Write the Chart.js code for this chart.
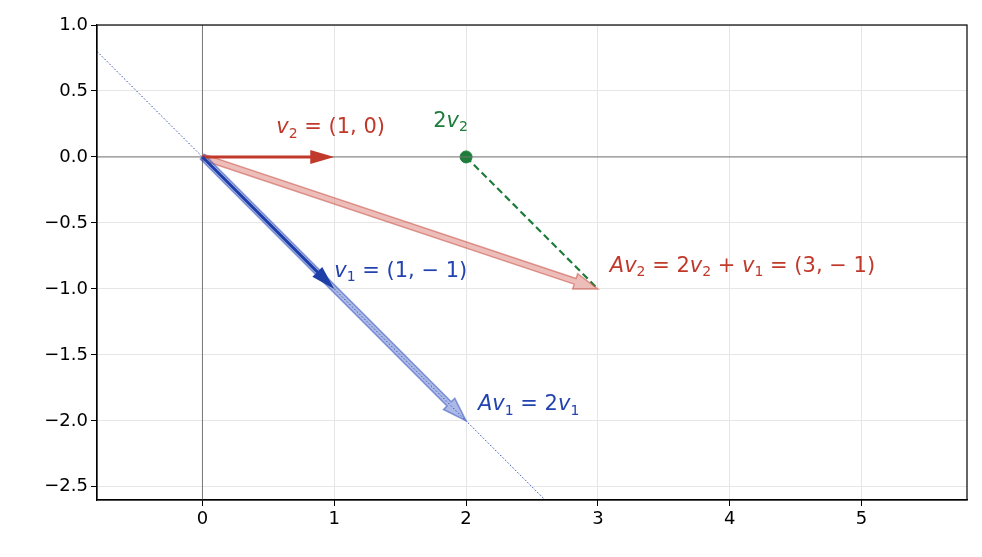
<!DOCTYPE html><html><head><meta charset="utf-8">
<script src="https://cdn.jsdelivr.net/npm/chart.js@4"></script>
<style>body{margin:0;background:#fff}#w{width:982px;height:557px}</style></head><body><div id="w"><canvas id="c"></canvas></div>
<script>
const xTicks=[0,1,2,3,4,5];
const yTicks=[1.0,0.5,0.0,-0.5,-1.0,-1.5,-2.0,-2.5];
const eigenLine=[{x:-0.8,y:0.8},{x:2.6,y:-2.6}];
const dashed=[{x:2,y:0},{x:3,y:-1}];
const point2v2=[{x:2,y:0}];
// arrows: [x0,y0,x1,y1]
const arrowAv2=[0,0,3,-1], arrowAv1=[0,0,2,-2], arrowV2=[0,0,1,0], arrowV1=[0,0,1,-1];
const labels=[
 {x:0.56,y:0.22,c:'#c0392b',p:[['v',1],['2',2],[' = (1, 0)',0]]},
 {x:1.75,y:0.27,c:'#1e7d3a',p:[['2',0],['v',1],['2',2]]},
 {x:1.0,y:-0.87,c:'#2343b0',p:[['v',1],['1',2],[' = (1, − 1)',0]]},
 {x:3.09,y:-0.83,c:'#c0392b',p:[['Av',1],['2',2],[' = 2',0],['v',1],['2',2],[' + ',0],['v',1],['1',2],[' = (3, − 1)',0]]},
 {x:2.09,y:-1.88,c:'#2343b0',p:[['Av',1],['1',2],[' = 2',0],['v',1],['1',2]]}
];
function arrow(ctx,xs,ys,a,col,w,hl,hw,stroke){
 const x0=xs.getPixelForValue(a[0]),y0=ys.getPixelForValue(a[1]),x1=xs.getPixelForValue(a[2]),y1=ys.getPixelForValue(a[3]);
 const ang=Math.atan2(y1-y0,x1-x0),L=Math.hypot(x1-x0,y1-y0);
 ctx.save();ctx.translate(x0,y0);ctx.rotate(ang);
 ctx.beginPath();ctx.moveTo(0,-w/2);ctx.lineTo(L-hl,-w/2);ctx.lineTo(L-hl,-hw/2);ctx.lineTo(L,0);ctx.lineTo(L-hl,hw/2);ctx.lineTo(L-hl,w/2);ctx.lineTo(0,w/2);ctx.closePath();
 ctx.fillStyle=col;ctx.fill();if(stroke){ctx.strokeStyle=stroke;ctx.lineWidth=1.5;ctx.stroke();}
 ctx.restore();
}
const plug={id:'p',afterDatasetsDraw(ch){
 const ctx=ch.ctx,xs=ch.scales.x,ys=ch.scales.y,a=ch.chartArea;
 ctx.save();ctx.beginPath();ctx.rect(a.left,a.top,a.right-a.left,a.bottom-a.top);ctx.clip();
 arrow(ctx,xs,ys,arrowAv2,'rgba(214,110,100,0.45)',6,24,16,'rgba(200,80,70,0.55)');
 arrow(ctx,xs,ys,arrowAv1,'rgba(70,100,200,0.45)',6,24,16,'rgba(50,80,190,0.55)');
 arrow(ctx,xs,ys,arrowV2,'#c0392b',3,24,14);
 arrow(ctx,xs,ys,arrowV1,'#1f3fa8',3,24,14);
 ctx.restore();
 ctx.strokeStyle='#000';ctx.lineWidth=1.2;ctx.strokeRect(a.left,a.top,a.right-a.left,a.bottom-a.top);
 ctx.textBaseline='middle';
 for(const l of labels){let px=xs.getPixelForValue(l.x),py=ys.getPixelForValue(l.y);ctx.fillStyle=l.c;
  for(const [t,s] of l.p){ctx.font=(s==1?'italic ':'')+(s==2?'14px':'21px')+' "DejaVu Sans"';ctx.fillText(t,px,py+(s==2?6:0));px+=ctx.measureText(t).width;}}
}};
const tk=a=>function(s){s.ticks=a.map(v=>({value:v}));};
new Chart(document.getElementById('c'),{type:'scatter',data:{datasets:[
 {data:eigenLine,showLine:true,borderColor:'#2343b0',borderWidth:1,borderDash:[1.5,2],pointRadius:0},
 {data:[{x:-0.8,y:0},{x:5.8,y:0}],showLine:true,borderColor:'#777',borderWidth:1,pointRadius:0},
 {data:[{x:0,y:-2.6},{x:0,y:1}],showLine:true,borderColor:'#777',borderWidth:1,pointRadius:0},
 {data:dashed,showLine:true,borderColor:'#1e7d3a',borderWidth:2.2,borderDash:[7,4],pointRadius:0},
 {data:point2v2,backgroundColor:'#1e7d3a',borderColor:'#1e7d3a',pointRadius:6}
]},options:{animation:false,responsive:true,maintainAspectRatio:false,layout:{padding:{top:25,right:15,left:0,bottom:0}},
 plugins:{legend:{display:false},tooltip:{enabled:false}},
 scales:{x:{min:-0.8,max:5.8,afterBuildTicks:tk(xTicks),afterFit(s){s.height=57},border:{color:'#000',width:1.2},grid:{color:'#e6e6e6',tickColor:'#000',tickLength:6},ticks:{color:'#000',font:{size:18,family:'DejaVu Sans'}}},
  y:{min:-2.6,max:1.0,afterBuildTicks:tk(yTicks),afterFit(s){s.width=97},border:{color:'#000',width:1.2},grid:{color:'#e6e6e6',tickColor:'#000',tickLength:6},ticks:{color:'#000',font:{size:18,family:'DejaVu Sans'},callback:v=>v.toFixed(1).replace('-','−')}}}},
 plugins:[plug]});
</script></body></html>
